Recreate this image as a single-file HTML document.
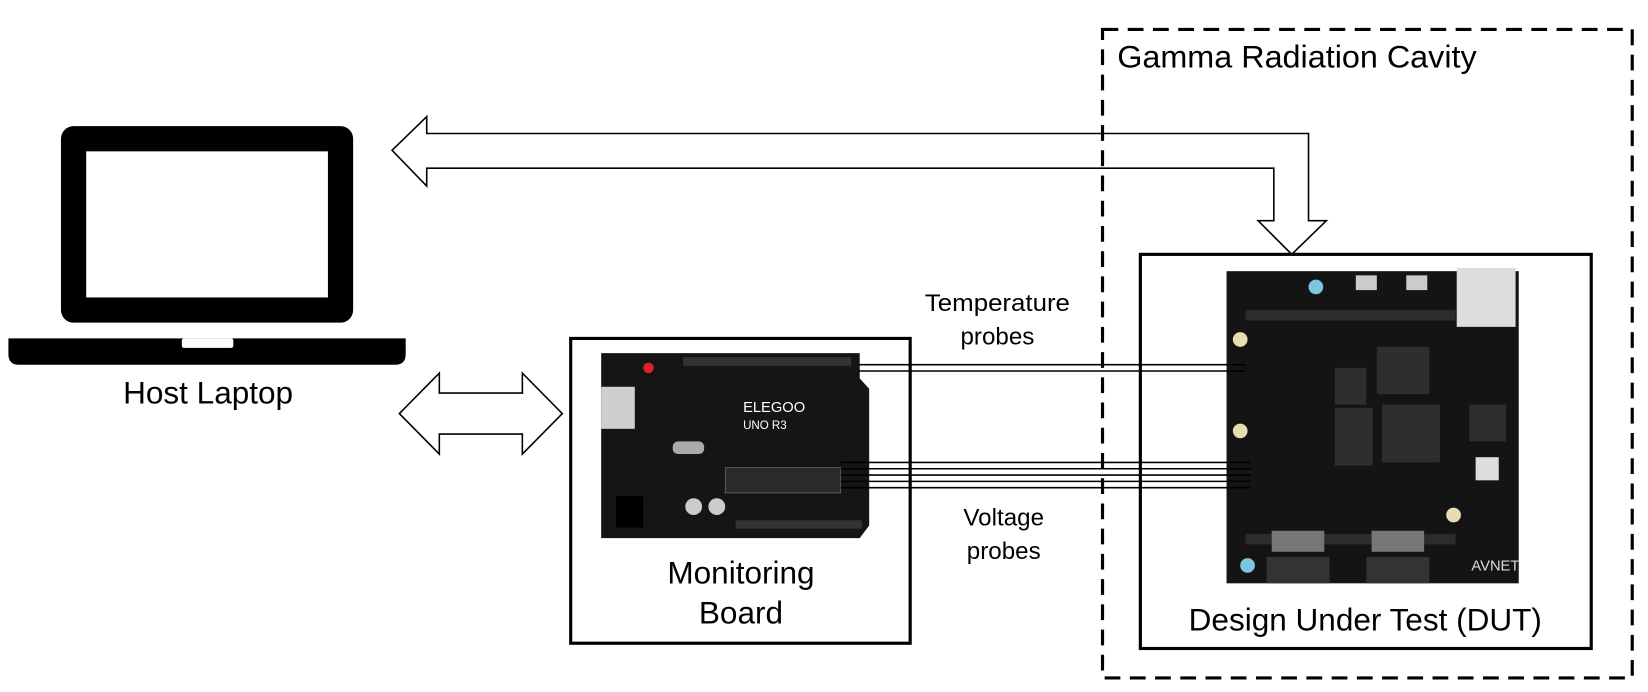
<!DOCTYPE html>
<html><head><meta charset="utf-8"><style>
html,body{margin:0;padding:0;background:#fff;}
svg{display:block;}
text{font-family:"Liberation Sans","DejaVu Sans",sans-serif;fill:#000;}
</style></head><body>
<svg width="1648" height="692" viewBox="0 0 1568 658.4" xmlns="http://www.w3.org/2000/svg">
<rect x="0" y="0" width="1568" height="658.4" fill="#fff"/>
<!-- Laptop -->
<rect x="58" y="120" width="278" height="187" rx="12" fill="#000"/>
<rect x="82" y="144" width="230" height="139" fill="#fff"/>
<path d="M8,322 H386 V337 Q386,347 376,347 H18 Q8,347 8,337 Z" fill="#000"/>
<rect x="173" y="322" width="49" height="9" rx="2" fill="#fff"/>
<text x="198" y="384" font-size="30" text-anchor="middle">Host Laptop</text>
<!-- double arrow -->
<path d="M380,393.5 L418,355 L418,374 L497,374 L497,355 L535,393.5 L497,432 L497,413 L418,413 L418,432 Z" fill="#fff" stroke="#000" stroke-width="1.5"/>
<!-- big bent arrow -->
<path d="M373,143 L406,111 L406,127 L1245,127 L1245,210 L1262,210 L1229,242 L1197,210 L1212,210 L1212,160 L406,160 L406,177 Z" fill="#fff" stroke="#000" stroke-width="1.5"/>
<!-- dashed cavity -->
<rect x="1049" y="28" width="504" height="617" fill="none" stroke="#000" stroke-width="3" stroke-dasharray="15,9"/>
<text x="1063" y="64" font-size="30" textLength="342" lengthAdjust="spacingAndGlyphs">Gamma Radiation Cavity</text>
<!-- Monitoring box -->
<rect x="543" y="322" width="323" height="290" fill="#fff" stroke="#000" stroke-width="3"/>
<!-- Arduino -->
<path d="M572,336 H818 V360 L827,370 V500 L818,512 H572 Z" fill="#151515"/>
<rect x="572" y="368" width="32" height="40" fill="#cfcfcf"/>
<rect x="586" y="472" width="26" height="30" fill="#000"/>
<circle cx="617" cy="350" r="5" fill="#d22"/>
<rect x="650" y="340" width="160" height="8" fill="#333"/>
<rect x="700" y="495" width="120" height="8" fill="#333"/>
<rect x="690" y="445" width="110" height="24" fill="#2a2a2a" stroke="#888" stroke-width="0.5"/>
<text x="707" y="392" font-size="14" style="fill:#fff">ELEGOO</text>
<text x="707" y="408" font-size="11" style="fill:#fff">UNO R3</text>
<circle cx="660" cy="482" r="8" fill="#ccc"/><circle cx="682" cy="482" r="8" fill="#ccc"/>
<rect x="640" y="420" width="30" height="12" rx="5" fill="#aaa"/>
<text x="705" y="555" font-size="30" text-anchor="middle">Monitoring</text>
<text x="705" y="593" font-size="30" text-anchor="middle">Board</text>
<!-- DUT box -->
<rect x="1085" y="242" width="429" height="375" fill="#fff" stroke="#000" stroke-width="3"/>
<rect x="1167" y="258" width="278" height="297" fill="#141414"/>
<rect x="1386" y="255" width="56" height="56" fill="#ddd"/>
<circle cx="1252" cy="273" r="7" fill="#7cc6e0"/>
<circle cx="1187" cy="538" r="7" fill="#7cc6e0"/>
<rect x="1290" y="262" width="20" height="14" fill="#ccc"/><rect x="1338" y="262" width="20" height="14" fill="#ccc"/>
<rect x="1185" y="295" width="200" height="10" fill="#2c2c2c"/>
<rect x="1185" y="508" width="200" height="10" fill="#2c2c2c"/>
<rect x="1310" y="330" width="50" height="45" fill="#2e2e2e"/>
<rect x="1270" y="350" width="30" height="35" fill="#2e2e2e"/>
<rect x="1270" y="388" width="36" height="55" fill="#2e2e2e"/>
<rect x="1315" y="385" width="55" height="55" fill="#2e2e2e"/>
<rect x="1398" y="385" width="35" height="35" fill="#2e2e2e"/>
<rect x="1205" y="530" width="60" height="25" fill="#333"/><rect x="1300" y="530" width="60" height="25" fill="#333"/>
<rect x="1210" y="505" width="50" height="20" fill="#777"/><rect x="1305" y="505" width="50" height="20" fill="#777"/>
<circle cx="1180" cy="323" r="7" fill="#e8dcb0"/><circle cx="1180" cy="410" r="7" fill="#e8dcb0"/><circle cx="1383" cy="490" r="7" fill="#e8dcb0"/>
<rect x="1404" y="435" width="22" height="22" fill="#ddd"/>
<text x="1400" y="543" font-size="14" style="fill:#ddd">AVNET</text>
<text x="1299" y="600" font-size="30" text-anchor="middle">Design Under Test (DUT)</text>
<!-- wires -->
<g stroke="#000" stroke-width="1.5">
<line x1="817" y1="347" x2="1185" y2="347"/>
<line x1="817" y1="353" x2="1185" y2="353"/>
<line x1="800" y1="440" x2="1190" y2="440"/>
<line x1="800" y1="446" x2="1190" y2="446"/>
<line x1="800" y1="452" x2="1190" y2="452"/>
<line x1="800" y1="458" x2="1190" y2="458"/>
<line x1="800" y1="464" x2="1190" y2="464"/>
</g>
<text x="949" y="296" font-size="23" text-anchor="middle" textLength="138" lengthAdjust="spacingAndGlyphs">Temperature</text>
<text x="949" y="328" font-size="23" text-anchor="middle">probes</text>
<text x="955" y="500" font-size="23" text-anchor="middle">Voltage</text>
<text x="955" y="532" font-size="23" text-anchor="middle">probes</text>
</svg>
</body></html>
